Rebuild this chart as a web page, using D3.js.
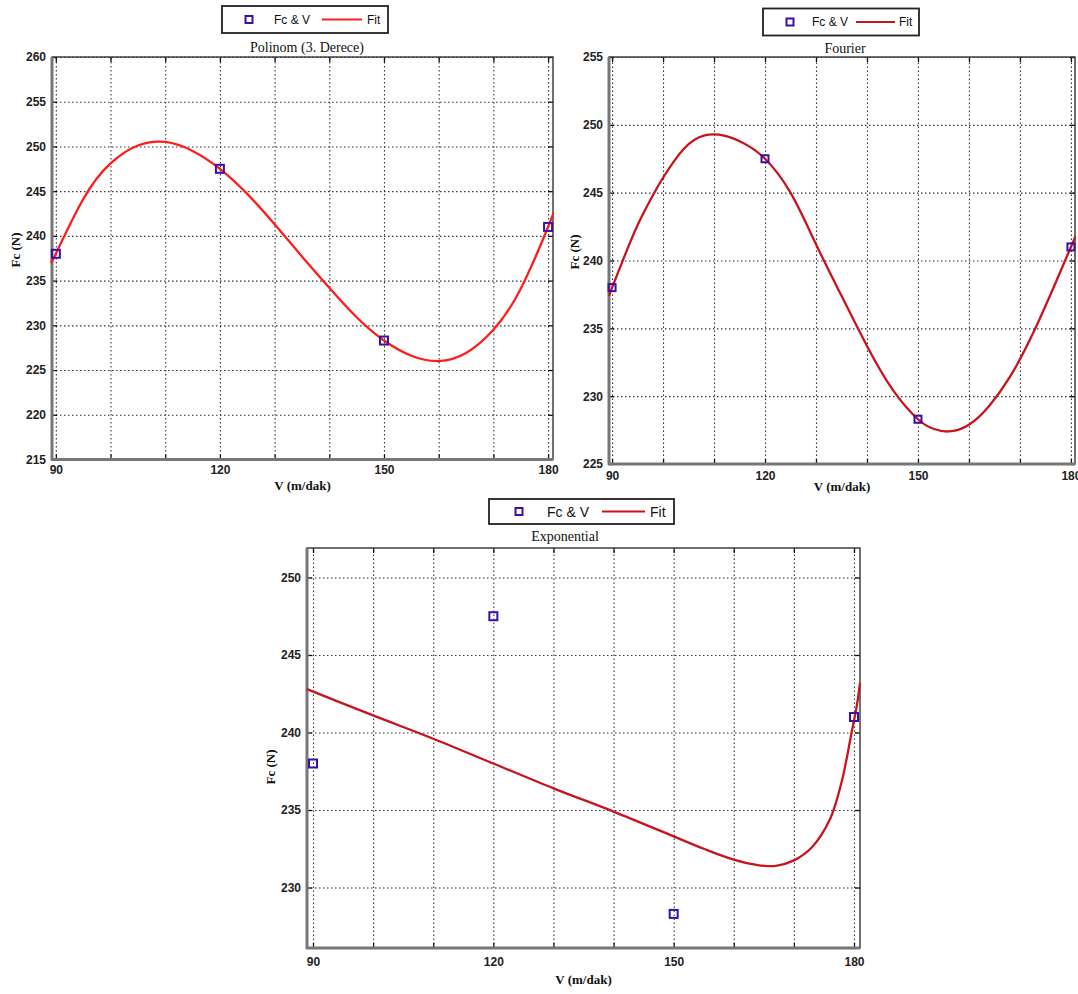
<!doctype html>
<html>
<head>
<meta charset="utf-8">
<script src="https://d3js.org/d3.v7.min.js"></script>
<style>
  body { margin: 0; background: #fff; }
  .tl { font-family: "Liberation Sans Narrow", "Arial Narrow", "Liberation Sans", sans-serif; font-size: 12px; font-weight: bold; fill: #222; }
  .ttl { font-family: "Liberation Serif", "Times New Roman", serif; font-size: 14px; fill: #111; }
  .atl { font-family: "Liberation Serif", "Times New Roman", serif; font-size: 13px; font-weight: bold; fill: #111; }
  .lg { font-family: "Liberation Sans Narrow", "Arial Narrow", "Liberation Sans", sans-serif; fill: #111; }
</style>
</head>
<body>
<script>
// measured points (same in all three panels)
var V  = [90, 120, 150, 180];
var Fc = [238, 247.5, 228.3, 241];

// fit curves
var polyV  = [89.3, 90, 95, 100, 105, 110, 115, 120, 125, 130, 135, 140, 145, 150, 155, 160, 165, 170, 175, 180, 180.9];
var polyFc = [237.3, 238, 244.1, 248.1, 250.1, 250.5, 249.5, 247.5, 244.7, 241.3, 237.7, 234.2, 230.9, 228.3, 226.6, 226.0, 226.9, 229.5, 234.1, 241, 242.5];

var fourV  = [89.4, 90, 92, 95, 98, 100, 104, 108, 112, 116, 120, 125, 130, 135, 140, 145, 150, 153, 156, 160, 164, 168, 172, 176, 180, 180.8];
var fourFc = [237.4, 238, 239.9, 242.6, 244.8, 246.1, 248.2, 249.2, 249.2, 248.6, 247.5, 245.0, 241.2, 237.4, 233.7, 230.5, 228.3, 227.6, 227.4, 227.9, 229.3, 231.4, 234.2, 237.5, 241, 241.7];

var expV  = [89, 100, 110, 120, 130, 140, 150, 155, 160, 164, 167, 170, 173, 176, 178, 179.6, 180.5, 181];
var expFc = [242.8, 241.1, 239.6, 238.0, 236.4, 234.9, 233.3, 232.5, 231.8, 231.45, 231.4, 231.75, 232.6, 234.4, 236.9, 240, 241.8, 243.2];

// axes
var xGrid = [90, 100, 110, 120, 130, 140, 150, 160, 170, 180];
var xLabels = [90, 120, 150, 180];
var yTicksPoly = [215, 220, 225, 230, 235, 240, 245, 250, 255, 260];
var yTicksFour = [225, 230, 235, 240, 245, 250, 255];
var yTicksExp  = [230, 235, 240, 245, 250];

var titles = ["Polinom (3. Derece)", "Fourier", "Exponential"];

var svg = d3.select("body").append("svg")
    .attr("width", 1078)
    .attr("height", 994);

function drawPanel(c) {
    var x = d3.scaleLinear().domain(c.xDomain).range(c.xRange);
    var y = d3.scaleLinear().domain(c.yDomain).range(c.yRange);
    var x0 = c.xRange[0], x1 = c.xRange[1];
    var yb = c.yRange[0], yt = c.yRange[1];
    var w = x1 - x0, h = yb - yt;
    var g = svg.append("g");

    // dotted grid
    g.append("g").attr("transform", "translate(0," + yb + ")")
        .call(d3.axisBottom(x).tickValues(xGrid).tickSize(-h).tickFormat(""))
        .call(function(a) { a.select(".domain").remove(); });
    g.append("g").attr("transform", "translate(" + x0 + ",0)")
        .call(d3.axisLeft(y).tickValues(c.yTicks).tickSize(-w).tickFormat(""))
        .call(function(a) { a.select(".domain").remove(); });
    g.selectAll(".tick line").attr("stroke", "#333").attr("stroke-width", 1.1).attr("stroke-dasharray", "1.5,2.5");

    // inward ticks on all sides
    var tk = g.append("g");
    tk.append("g").attr("transform", "translate(0," + yb + ")").call(d3.axisTop(x).tickValues(xGrid).tickSize(5).tickFormat(""));
    tk.append("g").attr("transform", "translate(0," + yt + ")").call(d3.axisBottom(x).tickValues(xGrid).tickSize(5).tickFormat(""));
    tk.append("g").attr("transform", "translate(" + x0 + ",0)").call(d3.axisRight(y).tickValues(c.yTicks).tickSize(5).tickFormat(""));
    tk.append("g").attr("transform", "translate(" + x1 + ",0)").call(d3.axisLeft(y).tickValues(c.yTicks).tickSize(5).tickFormat(""));
    tk.selectAll(".domain").remove();
    tk.selectAll("line").attr("stroke", "#111").attr("stroke-width", 1.3);

    // frame
    g.append("rect").attr("x", x0).attr("y", yt).attr("width", w).attr("height", h)
        .attr("fill", "none").attr("stroke", "#333").attr("stroke-width", 1.4);
    g.append("line").attr("x1", x0).attr("x2", x0).attr("y1", yt).attr("y2", yb + 1)
        .attr("stroke", "#777").attr("stroke-width", 3);
    g.append("line").attr("x1", x0 - 1).attr("x2", x1).attr("y1", yb).attr("y2", yb)
        .attr("stroke", "#777").attr("stroke-width", 3);

    // fit line
    var line = d3.line().x(function(d) { return x(d[0]); }).y(function(d) { return y(d[1]); })
        .curve(c.curve);
    g.append("path").datum(d3.zip(c.fitV, c.fitFc))
        .attr("d", line).attr("fill", "none")
        .attr("stroke", c.color).attr("stroke-width", 2.3);

    // markers
    var ms = c.ms;
    g.selectAll(".pt").data(d3.zip(V, Fc)).enter().append("rect")
        .attr("x", function(d) { return x(d[0]) - ms / 2; })
        .attr("y", function(d) { return y(d[1]) - ms / 2; })
        .attr("width", ms).attr("height", ms)
        .attr("fill", "none").attr("stroke", "#3a0fa6").attr("stroke-width", 2);

    // tick labels
    var xl = g.append("g").attr("transform", "translate(0," + yb + ")")
        .call(d3.axisBottom(x).tickValues(xLabels).tickSize(0).tickPadding(c.xPad));
    var yl = g.append("g").attr("transform", "translate(" + x0 + ",0)")
        .call(d3.axisLeft(y).tickValues(c.yTicks).tickSize(0).tickPadding(6));
    xl.select(".domain").remove();
    yl.select(".domain").remove();
    xl.selectAll("text").attr("class", "tl").attr("fill", null);
    yl.selectAll("text").attr("class", "tl").attr("fill", null);

    // titles
    svg.append("text").attr("class", "ttl").attr("x", c.titleX).attr("y", c.titleY)
        .attr("text-anchor", "middle").attr("dominant-baseline", "central").text(c.title);
    svg.append("text").attr("class", "atl").attr("x", (x0 + x1) / 2 + c.xlOff).attr("y", c.xlY)
        .attr("text-anchor", "middle").attr("dominant-baseline", "central").text("V (m/dak)");
    svg.append("text").attr("class", "atl")
        .attr("transform", "translate(" + c.ylX + "," + c.ylY + ") rotate(-90)")
        .attr("text-anchor", "middle").attr("dominant-baseline", "central").text("Fc (N)");

    // legend
    var L = c.legend;
    var lg = svg.append("g");
    lg.append("rect").attr("x", L.x0).attr("y", L.y0).attr("width", L.x1 - L.x0).attr("height", L.y1 - L.y0)
        .attr("fill", "#fff").attr("stroke", "#222").attr("stroke-width", 1.8);
    var cy = (L.y0 + L.y1) / 2;
    lg.append("rect").attr("x", L.sq - 3.5).attr("y", cy - 3.5).attr("width", 7).attr("height", 7)
        .attr("fill", "none").attr("stroke", "#3a0fa6").attr("stroke-width", 2);
    lg.append("text").attr("class", "lg").attr("x", L.t1).attr("y", cy).attr("dominant-baseline", "central")
        .style("font-size", L.fs + "px").text("Fc & V");
    lg.append("line").attr("x1", L.l0).attr("x2", L.l1).attr("y1", cy).attr("y2", cy)
        .attr("stroke", c.color).attr("stroke-width", 2.2);
    lg.append("text").attr("class", "lg").attr("x", L.t2).attr("y", cy).attr("dominant-baseline", "central")
        .style("font-size", L.fs + "px").text("Fit");
}

drawPanel({
    xDomain: [89.3, 180.9], xRange: [52, 553],
    yDomain: [215, 260], yRange: [459.5, 57], yTicks: yTicksPoly,
    fitV: polyV, fitFc: polyFc, color: "#ff1c1c", ms: 8, curve: d3.curveNatural,
    xPad: 6, xlY: 485, xlOff: 0, ylX: 15, ylY: 250,
    title: titles[0], titleX: 307, titleY: 47,
    legend: { x0: 222, x1: 388, y0: 6, y1: 33, sq: 249, t1: 274, l0: 322, l1: 362, t2: 367, fs: 12 }
});

drawPanel({
    xDomain: [89.4, 180.8], xRange: [609, 1075],
    yDomain: [225, 255], yRange: [464, 57], yTicks: yTicksFour,
    fitV: fourV, fitFc: fourFc, color: "#c8141c", ms: 7, curve: d3.curveNatural,
    xPad: 7, xlY: 486, xlOff: 0, ylX: 574, ylY: 252,
    title: titles[1], titleX: 845, titleY: 48,
    legend: { x0: 763, x1: 919, y0: 8.5, y1: 35.5, sq: 790, t1: 812, l0: 856, l1: 895, t2: 899, fs: 12 }
});

drawPanel({
    xDomain: [89, 181], xRange: [307, 860],
    yDomain: [226.1, 251.9], yRange: [948, 548], yTicks: yTicksExp,
    fitV: expV, fitFc: expFc, color: "#c8141c", ms: 8, curve: d3.curveCatmullRom.alpha(0.5),
    xPad: 9, xlY: 979, xlOff: 0, ylX: 270, ylY: 767,
    title: titles[2], titleX: 565, titleY: 536,
    legend: { x0: 489, x1: 674, y0: 499, y1: 524, sq: 519, t1: 547, l0: 602, l1: 645, t2: 650, fs: 14 }
});
</script>
</body>
</html>
